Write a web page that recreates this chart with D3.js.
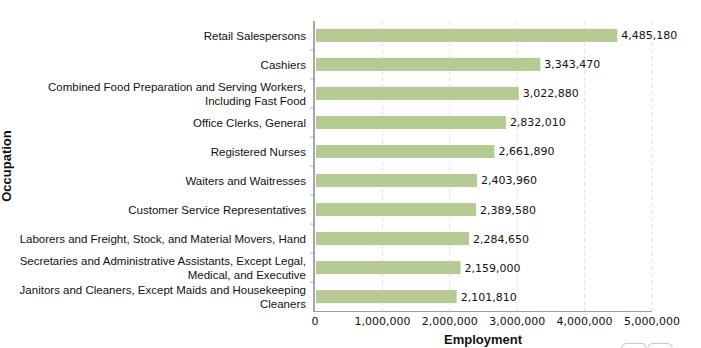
<!DOCTYPE html>
<html><head><meta charset="utf-8">
<script src="https://cdn.jsdelivr.net/npm/d3@7"></script>
<style>body{margin:0;background:#fff;overflow:hidden}</style>
</head><body><svg id="c" width="701" height="348"></svg>
<script>
const categories = [
  ["Retail Salespersons"],
  ["Cashiers"],
  ["Combined Food Preparation and Serving Workers,", "Including Fast Food"],
  ["Office Clerks, General"],
  ["Registered Nurses"],
  ["Waiters and Waitresses"],
  ["Customer Service Representatives"],
  ["Laborers and Freight, Stock, and Material Movers, Hand"],
  ["Secretaries and Administrative Assistants, Except Legal,", "Medical, and Executive"],
  ["Janitors and Cleaners, Except Maids and Housekeeping", "Cleaners"]
];
const employment = [4485180, 3343470, 3022880, 2832010, 2661890, 2403960, 2389580, 2284650, 2159000, 2101810];
const xTicks = [0, 1000000, 2000000, 3000000, 4000000, 5000000];

const svg = d3.select("#c");
const m = {l: 314, r: 652, t: 21, b: 311};
const x = d3.scaleLinear().domain([0, 5000000]).range([m.l + 1, m.r]);
const keys = categories.map((d, i) => i);
const y = d3.scaleBand().domain(keys).range([m.t, m.b]).paddingInner(0.55).paddingOuter(0.27);
const fmt = d3.format(",");
const catFont = "'Liberation Sans', Arial, sans-serif";
const numFont = "'DejaVu Sans', Verdana, sans-serif";

// gridlines
svg.append("g").selectAll("line").data(xTicks.slice(1)).join("line")
  .attr("x1", d => x(d)).attr("x2", d => x(d))
  .attr("y1", m.t).attr("y2", m.b)
  .attr("stroke", "#e2e2e2").attr("stroke-dasharray", "4,3").attr("stroke-width", 1);

// bars
svg.append("g").selectAll("rect").data(employment).join("rect")
  .attr("x", x(0) + 1).attr("y", (d, i) => y(i))
  .attr("width", d => x(d) - x(0) - 1).attr("height", y.bandwidth())
  .attr("fill", "#b6ca93");

// value labels
svg.append("g").selectAll("text").data(employment).join("text")
  .attr("x", d => x(d) + 4).attr("y", (d, i) => y(i) + y.bandwidth() / 2)
  .attr("dy", "0.36em").attr("font-family", numFont).attr("font-size", 11)
  .attr("fill", "#111").text(d => fmt(d));

// left axis
const step = y.step();
const bounds = d3.range(1, categories.length).map(i => y(i) - (step - y.bandwidth()) / 2);
svg.append("g").selectAll("line").data(bounds).join("line")
  .attr("x1", m.l - 4).attr("x2", m.l).attr("y1", d => d).attr("y2", d => d)
  .attr("stroke", "#a8b4c8").attr("stroke-width", 1);
svg.append("line").attr("x1", m.l).attr("x2", m.l).attr("y1", m.t).attr("y2", m.b + 1)
  .attr("stroke", "#8a8a8a").attr("stroke-width", 1.5);
// bottom axis
svg.append("line").attr("x1", m.l).attr("x2", m.r).attr("y1", m.b + 0.5).attr("y2", m.b + 0.5)
  .attr("stroke", "#a0a0a0").attr("stroke-width", 1);

// category labels
const cl = svg.append("g").selectAll("text").data(categories).join("text")
  .attr("text-anchor", "end").attr("font-family", catFont).attr("font-size", 11.5)
  .attr("fill", "#111");
cl.each(function(lines, i) {
  const cy = y(i) + y.bandwidth() / 2;
  const n = lines.length;
  d3.select(this).selectAll("tspan").data(lines).join("tspan")
    .attr("x", m.l - 8)
    .attr("y", (l, j) => cy + (j - (n - 1) / 2) * 14)
    .attr("dy", "0.36em").text(l => l);
});

// x tick labels
svg.append("g").selectAll("text").data(xTicks).join("text")
  .attr("x", d => x(d)).attr("y", m.b + 14).attr("text-anchor", "middle")
  .attr("font-family", numFont).attr("font-size", 11).attr("fill", "#111")
  .text(d => fmt(d));

// axis titles
svg.append("text").attr("x", (m.l + m.r) / 2).attr("y", 344).attr("text-anchor", "middle")
  .attr("font-family", catFont).attr("font-size", 13).attr("font-weight", "bold")
  .attr("fill", "#111").text("Employment");
svg.append("text").attr("transform", "translate(11,166) rotate(-90)").attr("text-anchor", "middle")
  .attr("font-family", catFont).attr("font-size", 13).attr("font-weight", "bold")
  .attr("fill", "#111").text("Occupation");

// partial buttons at bottom-right
svg.append("g").selectAll("rect").data([622, 648]).join("rect")
  .attr("x", d => d).attr("y", 343.5).attr("width", 24).attr("height", 20).attr("rx", 4)
  .attr("fill", "#fff").attr("stroke", "#c8c8c8");
</script></body></html>
